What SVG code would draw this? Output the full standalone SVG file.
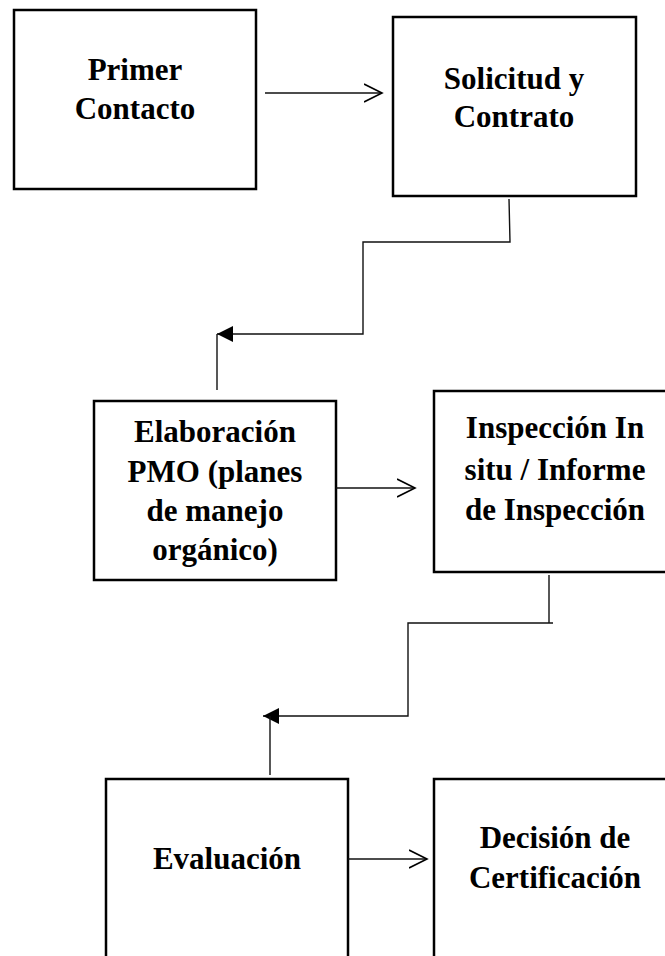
<svg xmlns="http://www.w3.org/2000/svg" width="665" height="956" viewBox="0 0 665 956">
<style>
.box{fill:#fff;stroke:#000;stroke-width:2.5}
.lbl{font-family:"Liberation Serif","Times New Roman",serif;font-weight:bold;font-size:31px;fill:#000;text-anchor:middle}
.con{fill:none;stroke:#111;stroke-width:1.4}
</style>
<defs>
<marker id="open" viewBox="0 0 20 20" refX="18" refY="10" markerWidth="20" markerHeight="20" markerUnits="userSpaceOnUse" orient="auto">
<path d="M0,1 L18,10 L0,19" fill="none" stroke="#000" stroke-width="1.6"/>
</marker>
<marker id="solid" viewBox="0 0 16 16" refX="16" refY="8" markerWidth="16" markerHeight="16" markerUnits="userSpaceOnUse" orient="auto">
<path d="M0,0 L16,8 L0,16 Z" fill="#000"/>
</marker>
</defs>
<rect width="665" height="956" fill="#fff"/>
<g id="n1">
<rect class="box" x="14" y="10" width="242" height="179"/>
<text class="lbl" x="135" y="80">Primer</text>
<text class="lbl" x="135" y="119">Contacto</text>
</g>
<g id="n2">
<rect class="box" x="393" y="17" width="243" height="179"/>
<text class="lbl" x="514" y="89">Solicitud y</text>
<text class="lbl" x="514" y="127">Contrato</text>
</g>
<g id="n3">
<rect class="box" x="94" y="401" width="242" height="179"/>
<text class="lbl" x="215" y="442">Elaboración</text>
<text class="lbl" x="215" y="482">PMO (planes</text>
<text class="lbl" x="215" y="521">de manejo</text>
<text class="lbl" x="215" y="560">orgánico)</text>
</g>
<g id="n4">
<rect class="box" x="434" y="391" width="243" height="181"/>
<text class="lbl" x="555" y="438">Inspección In</text>
<text class="lbl" x="555" y="480">situ / Informe</text>
<text class="lbl" x="555" y="520">de Inspección</text>
</g>
<g id="n5">
<rect class="box" x="106" y="779" width="242" height="185"/>
<text class="lbl" x="227" y="869">Evaluación</text>
</g>
<g id="n6">
<rect class="box" x="434" y="779" width="243" height="185"/>
<text class="lbl" x="555" y="848">Decisión de</text>
<text class="lbl" x="555" y="888">Certificación</text>
</g>
<g id="connectors">
<path class="con" d="M265,93 L382,93" marker-end="url(#open)"/>
<path class="con" d="M509,199 L510,242 L363,242 L363,334 L217,334" marker-end="url(#solid)"/>
<path class="con" d="M217,334 L217,390"/>
<path class="con" d="M336,488 L415,488" marker-end="url(#open)"/>
<path class="con" d="M549,575 L549,623 M553,623 L408,623 L408,716 L263,716" marker-end="url(#solid)"/>
<path class="con" d="M270,716 L270,775"/>
<path class="con" d="M348,859 L427,859" marker-end="url(#open)"/>
</g>
</svg>
